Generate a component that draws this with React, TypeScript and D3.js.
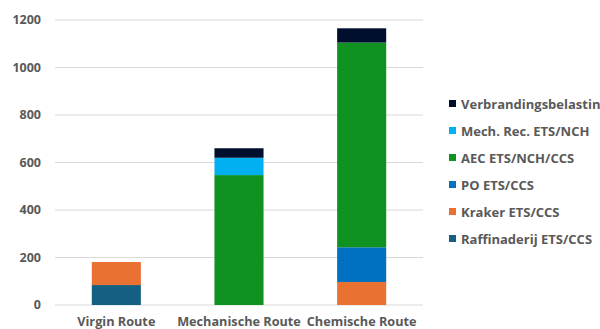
import React from "react";
import * as d3 from "d3";

const categories = ["Virgin Route", "Mechanische Route", "Chemische Route"];

const seriesNames = [
  "Raffinaderij ETS/CCS",
  "Kraker ETS/CCS",
  "PO ETS/CCS",
  "AEC ETS/NCH/CCS",
  "Mech. Rec. ETS/NCH",
  "Verbrandingsbelasting",
];

const raffinaderij = [84, 0, 0];
const kraker = [97, 0, 97];
const po = [0, 0, 146];
const aec = [0, 547, 862];
const mechRec = [0, 73, 0];
const verbranding = [0, 40, 60];

const seriesValues = [raffinaderij, kraker, po, aec, mechRec, verbranding];

const seriesColors = ["#156082", "#E97132", "#0070C0", "#0F921F", "#00B0F0", "#000F2E"];

const yTicks = [0, 200, 400, 600, 800, 1000, 1200];

const W = 600;
const H = 329;
const FONT = "'Open Sans', sans-serif";
const TEXT = "#595959";

export default function App() {
  const margin = { left: 55, right: 177, top: 20, bottom: 24 };
  const x = d3
    .scaleBand<string>()
    .domain(categories)
    .range([margin.left, W - margin.right])
    .paddingInner(0.6)
    .paddingOuter(0.3);
  const y = d3.scaleLinear().domain([0, 1200]).range([H - margin.bottom, margin.top]);

  const rows = categories.map((c, i) => {
    const r: Record<string, number | string> = { cat: c };
    seriesNames.forEach((s, j) => (r[s] = seriesValues[j][i]));
    return r;
  });
  const stacked = d3.stack<Record<string, number | string>>().keys(seriesNames)(rows as any);

  const legendOrder = seriesNames.map((_, i) => seriesNames.length - 1 - i);

  return (
    <div style={{ position: "absolute", left: 0, top: 0 }}>
      <svg width={W} height={H} style={{ display: "block", background: "#fff" }}>
        {yTicks.map((t) => (
          <g key={t}>
            <line x1={margin.left} x2={W - margin.right} y1={y(t)} y2={y(t)} stroke="#d9d9d9" strokeWidth={1} />
            <text
              x={41}
              y={y(t)}
              dy="0.35em"
              textAnchor="end"
              fontFamily={FONT}
              fontWeight={700}
              fontSize={12.5}
              fill={TEXT}
            >
              {t}
            </text>
          </g>
        ))}
        {stacked.map((layer, j) => (
          <g key={layer.key} fill={seriesColors[j]}>
            {layer.map((d, i) =>
              d[1] - d[0] > 0 ? (
                <rect
                  key={i}
                  x={x(categories[i])}
                  width={x.bandwidth()}
                  y={y(d[1])}
                  height={y(d[0]) - y(d[1])}
                />
              ) : null
            )}
          </g>
        ))}
        {categories.map((c) => (
          <text
            key={c}
            x={(x(c) as number) + x.bandwidth() / 2}
            y={326}
            textAnchor="middle"
            fontFamily={FONT}
            fontWeight={700}
            fontSize={12.7}
            fill={TEXT}
          >
            {c}
          </text>
        ))}
        {legendOrder.map((j, k) => {
          const cy = 104 + k * 27;
          return (
            <g key={seriesNames[j]}>
              <rect x={449} y={cy - 4} width={7} height={7} fill={seriesColors[j]} />
              <text
                x={461}
                y={cy}
                dy="0.35em"
                fontFamily={FONT}
                fontWeight={700}
                fontSize={13}
                fill={TEXT}
              >
                {seriesNames[j]}
              </text>
            </g>
          );
        })}
      </svg>
    </div>
  );
}
